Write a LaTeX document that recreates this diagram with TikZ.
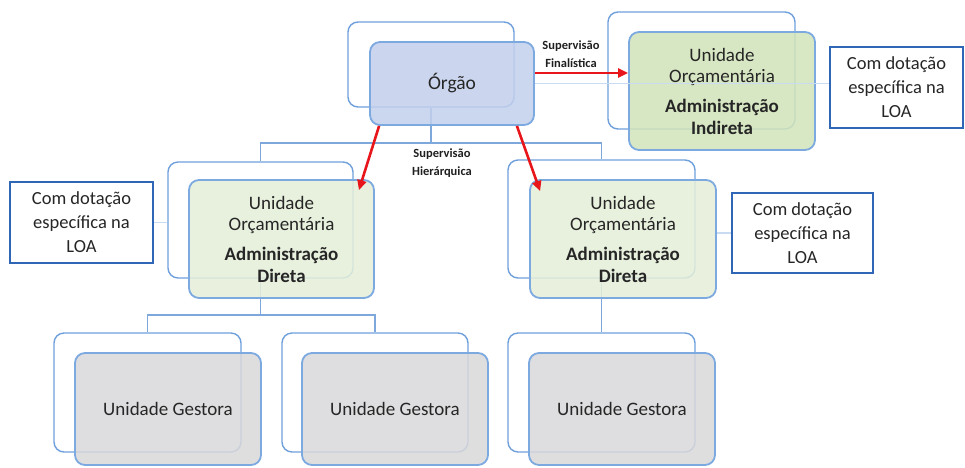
\documentclass[tikz,border=0pt]{standalone}
\usepackage{fontspec}
\setmainfont{Carlito}
\usetikzlibrary{arrows.meta,calc}
\definecolor{bframe}{HTML}{6FA0DC}
\definecolor{fframe}{HTML}{7BA9E0}
\definecolor{conn}{HTML}{7EA8DC}
\definecolor{faintc}{HTML}{C9DBF1}
\definecolor{dotc}{HTML}{2F66B6}
\definecolor{orgfill}{HTML}{C3CFEC}
\definecolor{indfill}{HTML}{D2E4BA}
\definecolor{admfill}{HTML}{E5EFD9}
\definecolor{gfill}{HTML}{D9D8DA}
\definecolor{txt}{HTML}{262626}
\definecolor{redc}{HTML}{E8161A}
\tikzset{
  backbox/.style={draw=bframe, line width=1.4pt, rounded corners=10pt, fill=white, inner sep=0pt},
  frontbox/.style={draw=fframe, line width=1.8pt, rounded corners=10pt, fill opacity=0.86, text opacity=1, inner sep=0pt, align=center, text=txt},
  dotbox/.style={draw=dotc, line width=2pt, fill=white, inner sep=0pt, align=center, text=txt, font=\fontsize{18.5}{24}\selectfont},
  bodytext/.style={font=\fontsize{19}{21.5}\selectfont},
  connline/.style={draw=conn, line width=1.6pt},
  faintline/.style={draw=faintc, line width=1.5pt},
  redarr/.style={draw=redc, line width=2.6pt, -{Triangle[length=10pt,width=9pt]}},
  smalllabel/.style={font=\fontsize{12.5}{18}\selectfont\bfseries, text=black!88, align=center, inner sep=0pt}
}
\begin{document}
\begin{tikzpicture}[x=1pt,y=-1pt]
\useasboundingbox (0,0) rectangle (965,467);

% back frames
\node[backbox, minimum width=166pt, minimum height=85pt] (orgB) at (431,64.5) {};
\node[backbox, minimum width=187pt, minimum height=117pt] (indB) at (701.5,70.5) {};
\node[backbox, minimum width=185pt, minimum height=116pt] (admLB) at (260.5,220) {};
\node[backbox, minimum width=187pt, minimum height=118pt] (admRB) at (601.5,219) {};
\node[backbox, minimum width=187pt, minimum height=119pt] (g1B) at (147.5,392.5) {};
\node[backbox, minimum width=186pt, minimum height=119pt] (g2B) at (375,392.5) {};
\node[backbox, minimum width=187pt, minimum height=119pt] (g3B) at (601.5,392.5) {};

% side boxes
\node[dotbox, minimum width=133pt, minimum height=81pt] (dotR) at (896.5,87.5) {Com dotação\\específica na\\LOA};
\node[dotbox, minimum width=143pt, minimum height=81pt] (dotL) at (81.5,222.5) {Com dotação\\específica na\\LOA};
\node[dotbox, minimum width=141pt, minimum height=80pt] (dotR2) at (802.5,233) {Com dotação\\específica na\\LOA};

% tree connectors
\coordinate (busO) at (431,143);
\coordinate (busL) at (260.5,315);
\draw[connline] (orgB.south) -- (busO) -| (admLB.north);
\draw[connline] (busO) -| (admRB.north);
\draw[connline] (admLB.south) -- (busL) -| (g1B.north);
\draw[connline] (busL) -| (g2B.north);
\draw[connline] (admRB.south) -- (g3B.north);

% front boxes
\node[frontbox, fill=orgfill, minimum width=164pt, minimum height=83pt, font=\fontsize{19.5}{22}\selectfont] (orgF) at (452,83.5) {Órgão};
\node[frontbox, fill=indfill, minimum width=186pt, minimum height=118pt, bodytext] (indF) at (722,91) {Unidade\\Orçamentária\\[8.5pt]\textbf{Administração}\\\textbf{Indireta}};
\node[frontbox, fill=admfill, minimum width=185pt, minimum height=118pt, bodytext] (admLF) at (281.5,239) {Unidade\\Orçamentária\\[8.5pt]\textbf{Administração}\\\textbf{Direta}};
\node[frontbox, fill=admfill, minimum width=186pt, minimum height=118pt, bodytext] (admRF) at (623,239) {Unidade\\Orçamentária\\[8.5pt]\textbf{Administração}\\\textbf{Direta}};
\node[frontbox, fill=gfill, minimum width=186pt, minimum height=112pt, bodytext] (g1F) at (168,409) {Unidade Gestora};
\node[frontbox, fill=gfill, minimum width=186pt, minimum height=112pt, bodytext] (g2F) at (395,409) {Unidade Gestora};
\node[frontbox, fill=gfill, minimum width=186pt, minimum height=112pt, bodytext] (g3F) at (622,409) {Unidade Gestora};

% faint side links
\draw[faintline] (orgF.east) -- (orgF.east -| dotR.west);
\draw[faintline] (dotL.east) -- (dotL.east -| admLB.west);
\draw[faintline] (dotR2.west -| admRF.east) -- (dotR2.west);

% red arrows
\coordinate (fa) at ($(orgF.east)+(0,-10.5)$);
\draw[redarr] (fa) -- (fa -| indF.west);
\draw[redarr] ($(orgF.south west)+(10,0)$) -- ($(admLF.north east)+(-16,11)$);
\draw[redarr] ($(orgF.south east)+(-18,0)$) -- ($(admRF.north west)+(11,12)$);

% labels
\node[smalllabel] (lblFin) at (571,54) {Supervisão\\Finalística};
\node[smalllabel] (lblHie) at (442,163.5) {Supervisão\\Hierárquica};
\end{tikzpicture}
\end{document}
